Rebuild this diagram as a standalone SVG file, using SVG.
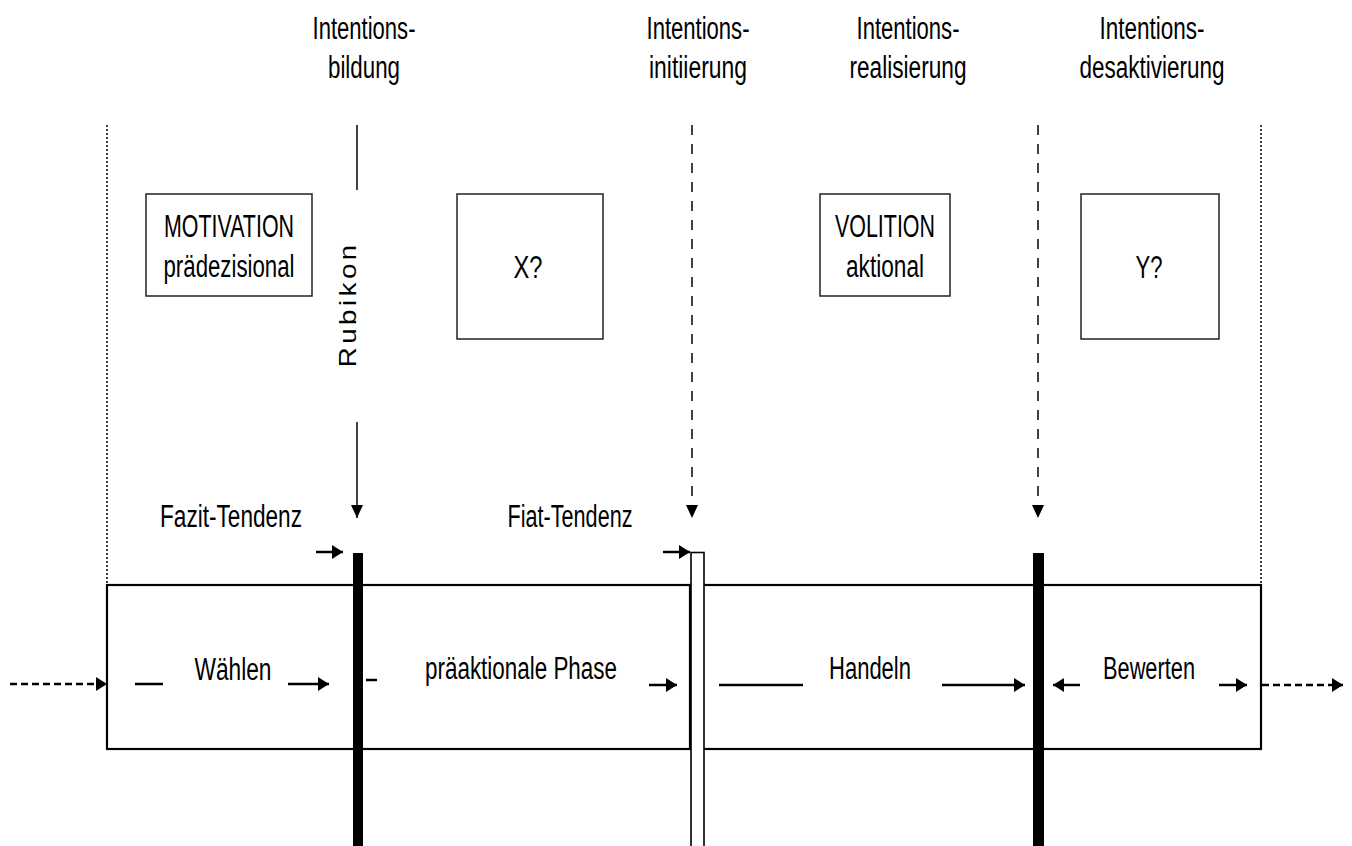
<svg xmlns="http://www.w3.org/2000/svg" width="1352" height="846" viewBox="0 0 1352 846">
<style>
text{font-family:"Liberation Sans",Arial,sans-serif;font-size:31px;fill:#000;text-anchor:middle}
.box{fill:#fff;stroke:#222;stroke-width:1.5}
.ln{stroke:#000;stroke-width:2.5;fill:none}
.thin{stroke:#000;stroke-width:1.5;fill:none}
.dot{stroke:#000;stroke-width:1.5;stroke-dasharray:2 2;fill:none}
.dashv{stroke:#000;stroke-width:1.5;stroke-dasharray:10 9;fill:none}
.dashh{stroke:#000;stroke-width:2.5;stroke-dasharray:7 4;fill:none}
</style>
<defs>
<marker id="ah" markerUnits="userSpaceOnUse" markerWidth="12" markerHeight="14" refX="11" refY="7" orient="auto"><path d="M0,0 L11,7 L0,14 z" fill="#000"/></marker>
<marker id="ahs" markerUnits="userSpaceOnUse" markerWidth="14" markerHeight="12" refX="13" refY="6" orient="auto"><path d="M0,0 L13,6 L0,12 z" fill="#000"/></marker>
</defs>

<g id="headers">
<text x="364" y="39" textLength="103" lengthAdjust="spacingAndGlyphs">Intentions-</text>
<text x="364" y="78" textLength="72" lengthAdjust="spacingAndGlyphs">bildung</text>
<text x="698" y="39" textLength="103" lengthAdjust="spacingAndGlyphs">Intentions-</text>
<text x="698" y="78" textLength="98" lengthAdjust="spacingAndGlyphs">initiierung</text>
<text x="908" y="39" textLength="103" lengthAdjust="spacingAndGlyphs">Intentions-</text>
<text x="908" y="78" textLength="117" lengthAdjust="spacingAndGlyphs">realisierung</text>
<text x="1152" y="39" textLength="105" lengthAdjust="spacingAndGlyphs">Intentions-</text>
<text x="1152" y="78" textLength="145" lengthAdjust="spacingAndGlyphs">desaktivierung</text>
</g>

<g id="motivation">
<rect class="box" x="146" y="194" width="166" height="102"/>
<text x="229" y="237" textLength="130" lengthAdjust="spacingAndGlyphs">MOTIVATION</text>
<text x="229" y="277" textLength="131" lengthAdjust="spacingAndGlyphs">prädezisional</text>
</g>
<g id="x">
<rect class="box" x="457" y="194" width="146" height="145"/>
<text x="528" y="278" textLength="29" lengthAdjust="spacingAndGlyphs">X?</text>
</g>
<g id="volition">
<rect class="box" x="820" y="194" width="130" height="102"/>
<text x="885" y="237" textLength="100" lengthAdjust="spacingAndGlyphs">VOLITION</text>
<text x="885" y="277" textLength="78" lengthAdjust="spacingAndGlyphs">aktional</text>
</g>
<g id="y">
<rect class="box" x="1081" y="194" width="138" height="145"/>
<text x="1149" y="278" textLength="27" lengthAdjust="spacingAndGlyphs">Y?</text>
</g>

<g id="rubikon">
<text transform="translate(356,306) rotate(-90) scale(1.2,1)" x="0" y="0" style="font-size:23px" textLength="102" lengthAdjust="spacing">Rubikon</text>
</g>

<g id="tendenz">
<text x="231" y="527" textLength="142" lengthAdjust="spacingAndGlyphs">Fazit-Tendenz</text>
<text x="570" y="527" textLength="125" lengthAdjust="spacingAndGlyphs">Fiat-Tendenz</text>
</g>

<g id="band">
<rect x="107" y="585" width="1154" height="164" fill="none" stroke="#000" stroke-width="2.2"/>
<text x="233" y="680" textLength="77" lengthAdjust="spacingAndGlyphs">Wählen</text>
<text x="521" y="679" textLength="192" lengthAdjust="spacingAndGlyphs">präaktionale Phase</text>
<text x="870" y="679" textLength="82" lengthAdjust="spacingAndGlyphs">Handeln</text>
<text x="1149" y="679" textLength="92" lengthAdjust="spacingAndGlyphs">Bewerten</text>
</g>

<g id="bars">
<rect x="353" y="553" width="10" height="300" fill="#000"/>
<rect x="1033" y="553" width="11" height="300" fill="#000"/>
<rect x="691" y="552.5" width="13" height="300" fill="#fff" stroke="#000" stroke-width="1.6"/>
<line x1="690" y1="585" x2="690" y2="749" stroke="#000" stroke-width="2.2"/>
</g>

<g id="connectors">
<line class="dot" x1="107" y1="125" x2="107" y2="585"/>
<line class="dot" x1="1261" y1="125" x2="1261" y2="585"/>
<line class="thin" x1="357" y1="125" x2="357" y2="190"/>
<line class="thin" x1="357" y1="422" x2="357" y2="518" marker-end="url(#ahs)"/>
<line class="dashv" x1="692" y1="125" x2="692" y2="518" marker-end="url(#ahs)"/>
<line class="dashv" x1="1038" y1="125" x2="1038" y2="518" marker-end="url(#ahs)"/>
<line class="ln" x1="316" y1="552" x2="343" y2="552" marker-end="url(#ah)"/>
<line class="ln" x1="663" y1="552" x2="690" y2="552" marker-end="url(#ah)"/>
<line class="dashh" x1="10" y1="684" x2="107" y2="684" marker-end="url(#ah)"/>
<line class="ln" x1="135" y1="684" x2="163" y2="684"/>
<line class="ln" x1="288" y1="684" x2="329" y2="684" marker-end="url(#ah)"/>
<line class="ln" x1="366" y1="680" x2="377" y2="680"/>
<line class="ln" x1="649" y1="685" x2="677" y2="685" marker-end="url(#ah)"/>
<line class="ln" x1="719" y1="685" x2="803" y2="685"/>
<line class="ln" x1="942" y1="685" x2="1025" y2="685" marker-end="url(#ah)"/>
<line class="ln" x1="1080" y1="685" x2="1053" y2="685" marker-end="url(#ah)"/>
<line class="ln" x1="1219" y1="685" x2="1247" y2="685" marker-end="url(#ah)"/>
<line class="dashh" x1="1262" y1="685" x2="1343" y2="685" marker-end="url(#ah)"/>
</g>
</svg>
